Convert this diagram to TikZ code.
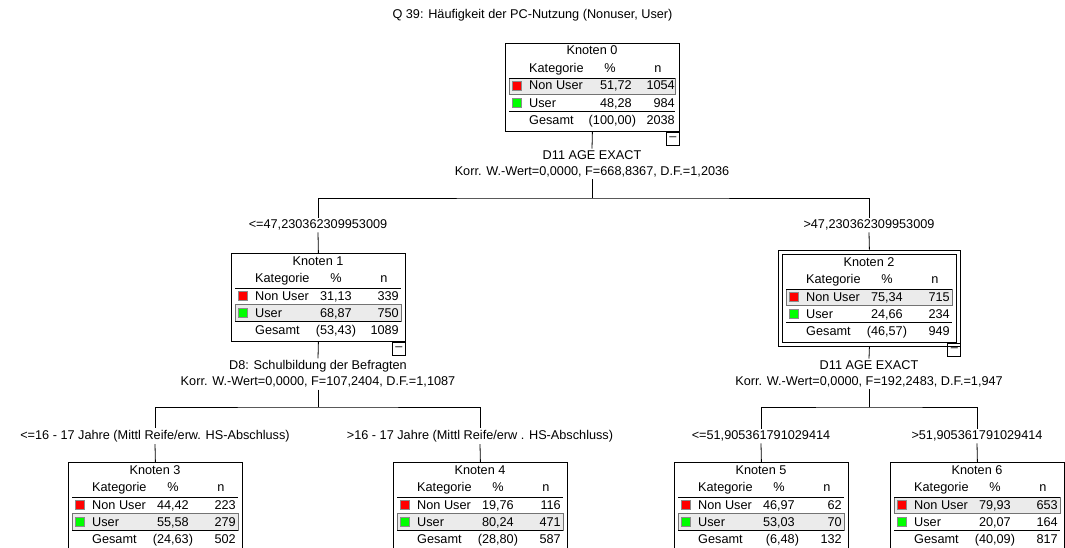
\documentclass[tikz,border=0pt]{standalone}
\usepackage{fontspec}
\setmainfont{Liberation Sans}
\usetikzlibrary{fit}
\definecolor{ink}{HTML}{000000}
\definecolor{nonuser}{HTML}{FF0000}
\definecolor{user}{HTML}{00FF00}
\definecolor{hlfill}{HTML}{EBEBEB}
\tikzset{
  knbox/.style={draw=ink, line width=0.8pt, minimum width=174pt, minimum height=88pt,
                inner sep=0pt, anchor=north west},
  selframe/.style={draw=ink, line width=0.8pt, inner sep=4pt},
  minusbox/.style={draw=ink, line width=0.8pt, minimum size=13pt, inner sep=0pt,
                   anchor=north east, text=ink},
  tabline/.style={draw=ink, line width=0.8pt},
  midline/.style={draw=black!50, line width=0.8pt},
  hlrow/.style={fill=hlfill, draw=black!55, line width=0.8pt},
  sqr/.style={draw=black!45, line width=0.4pt},
  txt/.style={inner sep=0pt, anchor=base, text=ink},
  split/.style={inner sep=2pt, align=center, text=ink},
  cond/.style={inner sep=2pt, text=ink},
  link/.style={draw=ink, line width=0.8pt},
  pctcol/.initial=121,
  ncol/.initial=168,
}
% #1 Knoten, #2 scope options, #3-#8 Non User / User / Gesamt (% and n), #9 marked row
\newcommand{\knoten}[9]{%
  \begin{scope}[#2]
    \pgfkeysgetvalue{/tikz/pctcol}{\pcx}%
    \pgfkeysgetvalue{/tikz/ncol}{\ncx}%
    \node[knbox] (k#1) at (0,0) {};
    \draw[midline] (4,51) -- (170,51);
    \ifnum#9=1
      \draw[hlrow] (4,35) rectangle (170,51);
    \else
      \draw[hlrow] (4,51) rectangle (170,68);
    \fi
    \draw[tabline] (4,35) -- (170,35) (4,68) -- (170,68);
    \node[txt] (k#1t) at (87,12) {Knoten #1};
    \node[txt, anchor=base west] (k#1h) at (24,29.5) {Kategorie};
    \node[txt] (k#1hp) at (105,29.5) {\%};
    \node[txt] (k#1hn) at (153,29.5) {n};
    \draw[sqr, fill=nonuser] (7,38.5) rectangle (16,47.5);
    \draw[sqr, fill=user] (7,55.5) rectangle (16,64.5);
    \node[txt, anchor=base west] (k#1a) at (24,47) {Non User};
    \node[txt, anchor=base east] (k#1ap) at (\pcx,47) {#3};
    \node[txt, anchor=base east] (k#1an) at (\ncx,47) {#4};
    \node[txt, anchor=base west] (k#1b) at (24,64.5) {User};
    \node[txt, anchor=base east] (k#1bp) at (\pcx,64.5) {#5};
    \node[txt, anchor=base east] (k#1bn) at (\ncx,64.5) {#6};
    \node[txt, anchor=base west] (k#1g) at (24,81.3) {Gesamt};
    \node[txt, anchor=base east] (k#1gp) at (\pcx,81.3) {(#7\rlap{)}};
    \node[txt, anchor=base east] (k#1gn) at (\ncx,81.3) {#8};
  \end{scope}}

\begin{document}
\begin{tikzpicture}[x=1pt, y=-1pt, font=\fontsize{12.7}{16}\selectfont]
  \fill[white] (0,0) rectangle (1065,548);
  \useasboundingbox (0,0) rectangle (1065,548);
  \node[cond] (title) at (532.5,15) {Q 39: Häufigkeit der PC-Nutzung (Nonuser, User)};

  \knoten{0}{shift={(505,43)}, pctcol=127, ncol=170}{51,72}{1054}{48,28}{984}{100,00}{2038}{1}
  \node[minusbox] (m0) at (k0.south east) {--};
  \node[split] (s0) at (592,164) {D11 AGE EXACT\\Korr. W.-Wert=0,0000, F=668,8367, D.F.=1,2036};
  \coordinate (b0) at (592,198);
  \node[cond] (c1) at (318,225) {<=47,230362309953009};
  \node[cond] (c2) at (869,225) {>47,230362309953009};

  \knoten{1}{shift={(231,253)}}{31,13}{339}{68,87}{750}{53,43}{1089}{2}
  \node[minusbox] (m1) at (k1.south east) {--};
  \knoten{2}{shift={(782,254)}}{75,34}{715}{24,66}{234}{46,57}{949}{1}
  \node[selframe, fit=(k2)] (k2sel) {};
  \node[minusbox] (m2) at ([yshift=4pt]k2sel.south east) {--};

  \node[split] (s1) at (318,374) {D8: Schulbildung der Befragten\\Korr. W.-Wert=0,0000, F=107,2404, D.F.=1,1087};
  \coordinate (b1) at (318,407);
  \node[split] (s2) at (869,374) {D11 AGE EXACT\\Korr. W.-Wert=0,0000, F=192,2483, D.F.=1,947};
  \coordinate (b2) at (869,407);
  \node[cond] (c3) at (155,436) {<=16 - 17 Jahre (Mittl Reife/erw. HS-Abschluss)};
  \node[cond] (c4) at (480,436) {>16 - 17 Jahre (Mittl Reife/erw . HS-Abschluss)};
  \node[cond] (c5) at (761,436) {<=51,905361791029414};
  \node[cond] (c6) at (977,436) {>51,905361791029414};

  \knoten{3}{shift={(68,462)}}{44,42}{223}{55,58}{279}{24,63}{502}{2}
  \knoten{4}{shift={(393,462)}}{19,76}{116}{80,24}{471}{28,80}{587}{2}
  \knoten{5}{shift={(674,462)}}{46,97}{62}{53,03}{70}{6,48}{132}{2}
  \knoten{6}{shift={(890,462)}}{79,93}{653}{20,07}{164}{40,09}{817}{1}

  \draw[link] (k0.south) -- (s0.north);
  \draw[link] (s0.south) -- (b0);
  \draw[link] (c1.north) |- (b0) -| (c2.north);
  \draw[link] (c1.south) -- (k1.north);
  \draw[link] (c2.south) -- (k2sel.north);
  \draw[link] (k1.south) -- (s1.north);
  \draw[link] (s1.south) -- (b1);
  \draw[link] (c3.north) |- (b1) -| (c4.north);
  \draw[link] (c3.south) -- (k3.north);
  \draw[link] (c4.south) -- (k4.north);
  \draw[link] (k2sel.south) -- (s2.north);
  \draw[link] (s2.south) -- (b2);
  \draw[link] (c5.north) |- (b2) -| (c6.north);
  \draw[link] (c5.south) -- (k5.north);
  \draw[link] (c6.south) -- (k6.north);
\end{tikzpicture}
\end{document}
